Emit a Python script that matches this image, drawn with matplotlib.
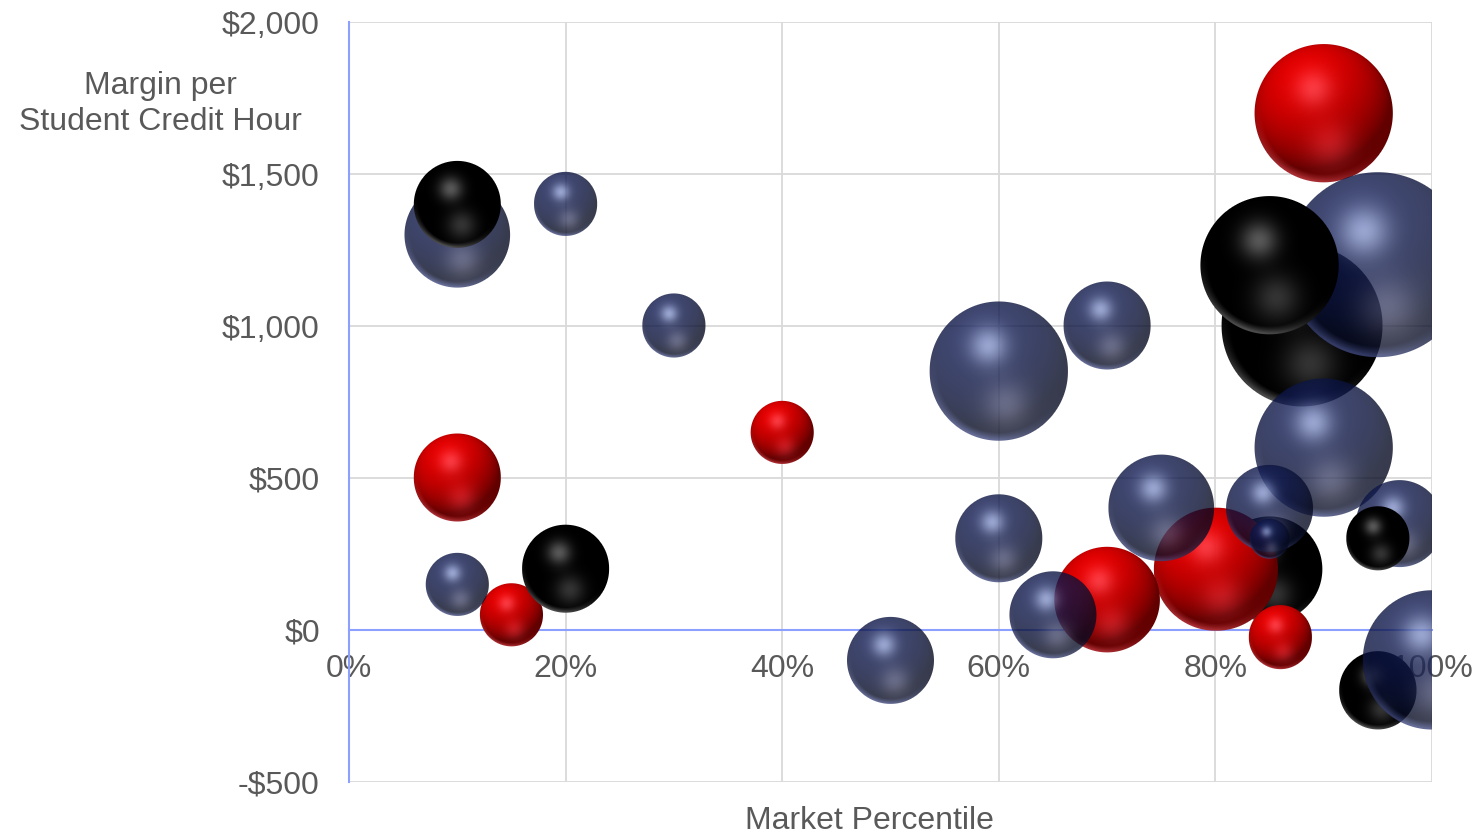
import numpy as np
import matplotlib
matplotlib.use("Agg")
import matplotlib.pyplot as plt
from matplotlib.ticker import FuncFormatter, MultipleLocator

# ---------------- data ----------------
# x = market percentile (fraction), y = margin per SCH ($), s = bubble size (area units)
black_back_x = [0.88, 0.85, 0.95]
black_back_y = [1000, 200, -200]
black_back_s = [65, 28, 15]

red_x = [0.90, 0.80, 0.70, 0.10, 0.40, 0.15, 0.86]
red_y = [1700, 200, 100, 500, 650, 50, -25]
red_s = [48, 38, 28, 19, 10, 10, 10]

navy_x = [0.95, 0.60, 0.90, 1.00, 0.10, 0.75, 0.70, 0.85, 0.97, 0.60, 0.65, 0.50,
          0.20, 0.30, 0.10, 0.85]
navy_y = [1200, 850, 600, -100, 1300, 400, 1000, 400, 350, 300, 50, -100,
          1400, 1000, 150, 300]
navy_s = [85, 48, 48, 48, 28, 28, 19, 19, 19, 19, 19, 19, 10, 10, 10, 4]

black_front_x = [0.85, 0.10, 0.20, 0.95]
black_front_y = [1200, 1400, 200, 300]
black_front_s = [48, 19, 19, 10]

x_ticks = [0, 0.2, 0.4, 0.6, 0.8, 1.0]
y_ticks = [-500, 0, 500, 1000, 1500, 2000]
x_title = "Market Percentile"
y_title = "Margin per\nStudent Credit Hour"

# ---------------- layout / style ----------------
W, H, DPI = 1483, 836, 100
TEXT = "#595959"
FONT = ["Liberation Sans", "Arial", "DejaVu Sans"]
plt.rcParams["font.family"] = FONT
FS = 23
R_MAX_PX = 92.0  # radius in pixels of the largest bubble

fig = plt.figure(figsize=(W / DPI, H / DPI), dpi=DPI)
fig.patch.set_facecolor("white")
ax = fig.add_axes([349 / W, 54 / H, 1083 / W, 760 / H])
ax.set_xlim(x_ticks[0], x_ticks[-1])
ax.set_ylim(y_ticks[0], y_ticks[-1])
ax.set_autoscale_on(False)

ax.xaxis.set_major_locator(MultipleLocator(0.2))
ax.yaxis.set_major_locator(MultipleLocator(500))
ax.xaxis.set_major_formatter(FuncFormatter(lambda v, p: f"{v*100:.0f}%"))
ax.yaxis.set_major_formatter(
    FuncFormatter(lambda v, p: (f"-${abs(v):,.0f}" if v < 0 else f"${v:,.0f}")))
ax.grid(True, color="#d9d9d9", lw=1.3)
ax.set_axisbelow(True)
for side in ["top", "right"]:
    ax.spines[side].set_visible(False)
ax.spines["bottom"].set_position(("data", 0))
ax.spines["bottom"].set_color("#8ca0ff")
ax.spines["left"].set_color("#8ca0ff")
ax.spines["bottom"].set_linewidth(1.5)
ax.spines["left"].set_linewidth(1.5)
ax.tick_params(axis="both", length=0, labelsize=FS, labelcolor=TEXT)
ax.tick_params(axis="y", pad=21)
ax.tick_params(axis="x", pad=17)
for lab in ax.get_xticklabels() + ax.get_yticklabels():
    lab.set_family(FONT)

fig.text(160 / W, 1 - 104 / H, y_title, ha="center", va="center",
         fontsize=FS, color=TEXT, linespacing=1.3, family=FONT)
fig.text(869 / W, 1 - 821 / H, x_title, ha="center", va="center",
         fontsize=FS, color=TEXT, family=FONT)

# ---------------- 3D sphere shading ----------------
STYLES = {
    "red": dict(base=(0.86, 0.0, 0.0), hl=(0.10, 0.22, 0.25), refl=(0.18, 0.10, 0.12),
                rim=(0.28, 0.18, 0.20), alpha=1.0),
    "black": dict(base=(0.0, 0.0, 0.0), hl=(0.34, 0.34, 0.34), refl=(0.20, 0.20, 0.20),
                  rim=(0.30, 0.30, 0.30), alpha=1.0),
    "navy": dict(base=(14 / 255, 24 / 255, 76 / 255), hl=(0.44, 0.46, 0.46),
                 refl=(0.22, 0.21, 0.21), rim=(0.22, 0.24, 0.36), alpha=0.8),
}
LIGHT = np.array([-0.3, -0.6, 0.75])
LIGHT = LIGHT / np.linalg.norm(LIGHT)
S_MAX = max(black_back_s + red_s + navy_s + black_front_s)


def draw_sphere(x, y, s, kind, z):
    st = STYLES[kind]
    r = R_MAX_PX * np.sqrt(s / S_MAX)
    xd, yd = ax.transData.transform((x, y))
    n = int(np.ceil(2 * r)) + 6
    x0 = int(np.floor(xd - n / 2))
    y0 = int(np.floor(yd - n / 2))
    idx = np.arange(n)
    px = x0 + idx + 0.5
    py = y0 + n - idx - 0.5
    PX, PY = np.meshgrid(px, py)
    u = (PX - xd) / r
    v = -(PY - yd) / r
    d = np.sqrt(u * u + v * v)
    mask = np.clip(r - d * r + 0.5, 0, 1)
    dc = np.minimum(d, 1.0)
    nz = np.sqrt(np.clip(1 - dc ** 2, 0, 1))
    diff = np.clip(u * LIGHT[0] + v * LIGHT[1] + nz * LIGHT[2], 0, 1)
    f = 0.45 + 0.6 * diff
    g1 = np.exp(-((u + 0.15) ** 2 + (v + 0.36) ** 2) / (2 * 0.19 ** 2))
    g2 = np.exp(-((u - 0.10) ** 2 + (v - 0.47) ** 2) / (2 * 0.23 ** 2))
    rim = np.clip((dc - 0.88) / 0.10, 0, 1) * np.clip(-0.35 * u + 0.94 * v, 0, 1) ** 2
    img = np.zeros((n, n, 4))
    for c in range(3):
        img[..., c] = (st["base"][c] * f + st["hl"][c] * g1 +
                       st["refl"][c] * g2 + st["rim"][c] * rim)
    img[..., :3] = np.clip(img[..., :3], 0, 1)
    img[..., 3] = mask * st["alpha"]
    inv = ax.transData.inverted()
    dx0, dy0 = inv.transform((x0, y0))
    dx1, dy1 = inv.transform((x0 + n, y0 + n))
    ax.imshow(img, extent=(dx0, dx1, dy0, dy1), origin="upper",
              interpolation="nearest", aspect="auto", zorder=z)


series = [
    (black_back_x, black_back_y, black_back_s, "black", 3),
    (red_x, red_y, red_s, "red", 4),
    (navy_x, navy_y, navy_s, "navy", 5),
    (black_front_x, black_front_y, black_front_s, "black", 6),
]
for xs, ys, ss, kind, zbase in series:
    order = np.argsort(-np.array(ss), kind="stable")
    for k, i in enumerate(order):
        draw_sphere(xs[i], ys[i], ss[i], kind, zbase + k * 0.01)

ax.set_xlim(x_ticks[0], x_ticks[-1])
ax.set_ylim(y_ticks[0], y_ticks[-1])

fig.savefig("out.png", dpi=DPI, facecolor="white")
